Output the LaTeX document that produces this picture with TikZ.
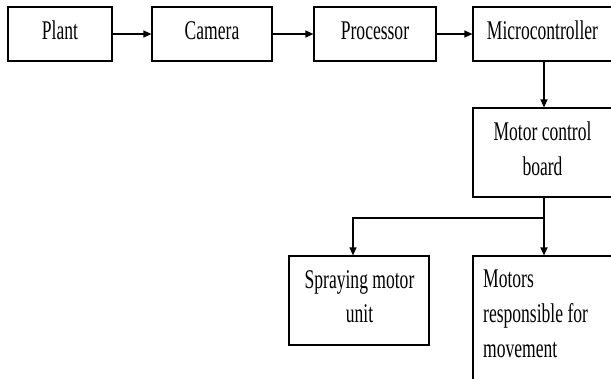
\documentclass[tikz,border=0pt]{standalone}
\usepackage{fontspec}
\setmainfont{Liberation Serif}[FakeStretch=0.65]
\usetikzlibrary{arrows.meta}
\begin{document}
\begin{tikzpicture}[x=1pt,y=-1pt,
  box/.style={draw,line width=1.2pt,rectangle,inner sep=0pt},
  txt/.style={inner sep=0pt,anchor=base,font=\fontsize{27}{35}\selectfont},
  ltxt/.style={inner sep=0pt,anchor=base west,font=\fontsize{27}{35}\selectfont},
  arr/.style={line width=1.2pt,-{Triangle[length=8pt,width=7pt]}},
  ln/.style={line width=1.2pt}]
\useasboundingbox (0,0) rectangle (611,378);
\clip (0,0) rectangle (611,378);
% boxes
\node[box,minimum width=104pt,minimum height=54pt] (plant) at (60,34) {};
\node[box,minimum width=120pt,minimum height=54pt] (camera) at (212,34) {};
\node[box,minimum width=122pt,minimum height=54pt] (proc) at (375,34) {};
\node[box,minimum width=142pt,minimum height=54pt] (micro) at (544,34) {};
\node[box,minimum width=142pt,minimum height=89pt] (mcb) at (544,152.5) {};
\node[box,minimum width=140pt,minimum height=89pt] (spray) at (359,300.5) {};
\node[box,minimum width=142pt,minimum height=144pt] (motors) at (544,328) {};
% texts
\node[txt] (tplant) at (60,39) {Plant};
\node[txt] (tcamera) at (212,39) {Camera};
\node[txt] (tproc) at (375,39) {Processor};
\node[txt] (tmicro) at (542.5,39) {Microcontroller};
\node[txt] (tmcb1) at (542.5,140) {Motor control};
\node[txt] (tmcb2) at (542.5,175) {board};
\node[txt] (tspray1) at (359.5,288) {Spraying motor};
\node[txt] (tspray2) at (359.5,322) {unit};
\node[ltxt] (tmot1) at (483,287) {Motors};
\node[ltxt] (tmot2) at (483,322) {responsible for};
\node[ltxt] (tmot3) at (483,357) {movement};
% connectors
\draw[arr] (plant) -- (camera);
\draw[arr] (camera) -- (proc);
\draw[arr] (proc) -- (micro);
\draw[arr] (micro) -- (mcb);
\coordinate (junc) at (544,218);
\coordinate (sprtop) at (353,218);
\draw[ln] (mcb.south) -- (junc);
\draw[arr] (junc) -- (motors.north);
\draw[arr] (junc) -- (sprtop) -- (sprtop |- spray.north);
\end{tikzpicture}
\end{document}
